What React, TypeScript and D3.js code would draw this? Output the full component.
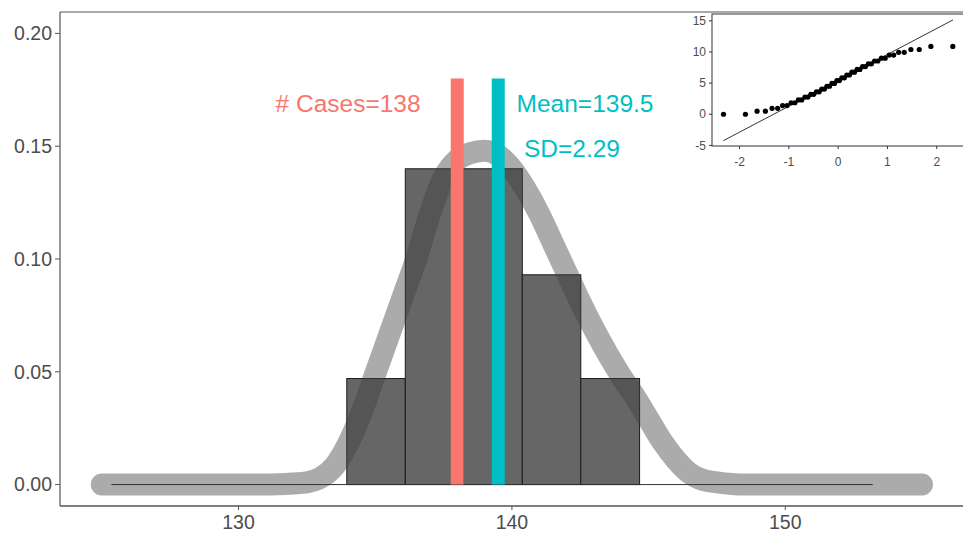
import React from "react";
import * as d3 from "d3";

// histogram bins (density scale)
const binEdges = [133.96, 136.1, 138.23, 140.38, 142.52, 144.67];
const binDensity = [0.047, 0.14, 0.14, 0.093, 0.047];

// kernel density: [x, density]
const densityX = [125.0, 127, 129, 131, 132, 132.5, 133, 133.5, 134, 134.5, 135, 135.5, 136, 136.5, 137, 137.5, 138, 138.5, 139, 139.5, 140, 140.5, 141, 141.5, 142, 142.5, 143, 143.5, 144, 144.5, 145, 145.5, 146, 146.5, 147, 147.5, 148.5, 150, 152, 155.0];
const densityY = [0, 0, 0, 0, 0.0005, 0.001, 0.003, 0.008, 0.018, 0.032, 0.049, 0.066, 0.083, 0.1, 0.12, 0.136, 0.144, 0.147, 0.148, 0.146, 0.14, 0.131, 0.12, 0.107, 0.094, 0.081, 0.069, 0.058, 0.048, 0.039, 0.029, 0.019, 0.011, 0.005, 0.002, 0.001, 0, 0, 0, 0];

// thin baseline
const baseline = [125.35, 153.2];

// reference lines
const casesValue = 138;
const meanValue = 139.5;
const sdValue = 2.29;
const refTop = 0.18;

const xTicks = [130, 140, 150];
const yTicks = [0, 0.05, 0.1, 0.15, 0.2];

// inset qq plot
const qqTheo = [-2.326, -1.881, -1.645, -1.476, -1.341, -1.227, -1.126, -1.036, -0.954, -0.878, -0.806, -0.739, -0.674, -0.613, -0.553, -0.496, -0.44, -0.385, -0.332, -0.279, -0.228, -0.176, -0.126, -0.075, -0.025, 0.025, 0.075, 0.126, 0.176, 0.228, 0.279, 0.332, 0.385, 0.44, 0.496, 0.553, 0.613, 0.674, 0.739, 0.806, 0.878, 0.954, 1.036, 1.126, 1.227, 1.341, 1.476, 1.645, 1.881, 2.326];
const qqSample = [0, 0, 0.5, 0.5, 0.95, 0.95, 1.4, 1.4, 1.85, 1.85, 2.3, 2.3, 2.75, 2.75, 3.2, 3.2, 3.6, 3.6, 4.05, 4.05, 4.5, 4.5, 4.95, 4.95, 5.4, 5.4, 5.85, 5.85, 6.3, 6.3, 6.75, 6.75, 7.2, 7.2, 7.65, 7.65, 8.1, 8.1, 8.55, 8.55, 9.0, 9.0, 9.5, 9.5, 9.95, 9.95, 10.4, 10.4, 10.9, 10.9];
const qqLineX = [-2.33, 2.33];
const qqLineY = [-4.25, 15.15];
const qqXTicks = [-2, -1, 0, 1, 2];
const qqYTicks = [-5, 0, 5, 10, 15];

const W = 963;
const H = 533;
const font = "Arial, 'Liberation Sans', Helvetica, sans-serif";
const axisGrey = "#4d4d4d";

export default function App() {
  const x = d3.scaleLinear().domain([123.47, 156.5]).range([60, 963]);
  const y = d3.scaleLinear().domain([-0.0095, 0.2095]).range([506, 12]);

  const densLine = d3
    .line<number>()
    .x((d, i) => x(densityX[i]))
    .y((d) => y(d))
    .curve(d3.curveMonotoneX);

  // inset
  const qx = d3.scaleLinear().domain([-2.559, 2.559]).range([712, 964.3]);
  const qy = d3.scaleLinear().domain([-5.1, 16.1]).range([146, 14]);

  return (
    <svg width={W} height={H} style={{ position: "absolute", left: 0, top: 0, background: "#fff" }} fontFamily={font}>
      <rect x={0} y={0} width={W} height={H} fill="#fff" />

      {/* histogram */}
      {binDensity.map((d, i) => (
        <rect
          key={i}
          x={x(binEdges[i])}
          y={y(d)}
          width={x(binEdges[i + 1]) - x(binEdges[i])}
          height={y(0) - y(d)}
          fill="#666666"
          stroke="#1a1a1a"
          strokeWidth={1}
        />
      ))}

      {/* thick density */}
      <path
        d={densLine(densityY) || ""}
        fill="none"
        stroke="#3f3f3f"
        strokeOpacity={0.44}
        strokeWidth={22}
        strokeLinecap="round"
        strokeLinejoin="round"
      />

      {/* baseline */}
      <line x1={x(baseline[0])} x2={x(baseline[1])} y1={y(0)} y2={y(0)} stroke="#333" strokeWidth={1} />

      {/* reference lines */}
      <line x1={x(casesValue)} x2={x(casesValue)} y1={y(0)} y2={y(refTop)} stroke="#F8766D" strokeWidth={13} />
      <line x1={x(meanValue)} x2={x(meanValue)} y1={y(0)} y2={y(refTop)} stroke="#00BFC4" strokeWidth={13} />

      <text x={x(136.66)} y={y(0.165)} textAnchor="end" fontSize={24.5} fill="#F8766D">
        {`# Cases=${casesValue}`}
      </text>
      <text x={x(140.17)} y={y(0.165)} textAnchor="start" fontSize={24.5} fill="#00BFC4">
        {`Mean=${meanValue}`}
      </text>
      <text x={x(140.44)} y={y(0.1454)} textAnchor="start" fontSize={24.5} fill="#00BFC4">
        {`SD=${sdValue}`}
      </text>

      {/* panel border */}
      <line x1={60} x2={963} y1={12} y2={12} stroke="#555" strokeWidth={1.2} />
      <line x1={60} x2={60} y1={12} y2={506} stroke="#555" strokeWidth={1.2} />
      <line x1={60} x2={963} y1={506} y2={506} stroke="#555" strokeWidth={1.4} />

      {/* y axis */}
      {yTicks.map((t) => (
        <g key={t}>
          <line x1={55} x2={60} y1={y(t)} y2={y(t)} stroke="#555" />
          <text x={52} y={y(t)} dy="0.35em" textAnchor="end" fontSize={19.5} fill={axisGrey}>
            {t.toFixed(2)}
          </text>
        </g>
      ))}

      {/* x axis */}
      {xTicks.map((t) => (
        <g key={t}>
          <line x1={x(t)} x2={x(t)} y1={506} y2={510} stroke="#555" />
          <text x={x(t)} y={529} textAnchor="middle" fontSize={19.5} fill={axisGrey}>
            {t}
          </text>
        </g>
      ))}

      {/* inset qq plot */}
      <g>
        <rect x={712} y={14} width={260} height={132} fill="#fff" stroke="#333" strokeWidth={1} />
        <line
          x1={qx(qqLineX[0])}
          y1={qy(qqLineY[0])}
          x2={qx(qqLineX[1])}
          y2={qy(qqLineY[1])}
          stroke="#000"
          strokeWidth={0.8}
        />
        {qqSample.map((v, i) => (
          <circle key={i} cx={qx(qqTheo[i])} cy={qy(v)} r={2.6} fill="#000" />
        ))}
        {qqYTicks.map((t) => (
          <g key={t}>
            <line x1={709} x2={712} y1={qy(t)} y2={qy(t)} stroke="#333" />
            <text x={706} y={qy(t)} dy="0.35em" textAnchor="end" fontSize={12} fill={axisGrey}>
              {t}
            </text>
          </g>
        ))}
        {qqXTicks.map((t) => (
          <g key={t}>
            <line x1={qx(t)} x2={qx(t)} y1={146} y2={149} stroke="#333" />
            <text x={qx(t)} y={166} textAnchor="middle" fontSize={12} fill={axisGrey}>
              {t}
            </text>
          </g>
        ))}
      </g>
    </svg>
  );
}
